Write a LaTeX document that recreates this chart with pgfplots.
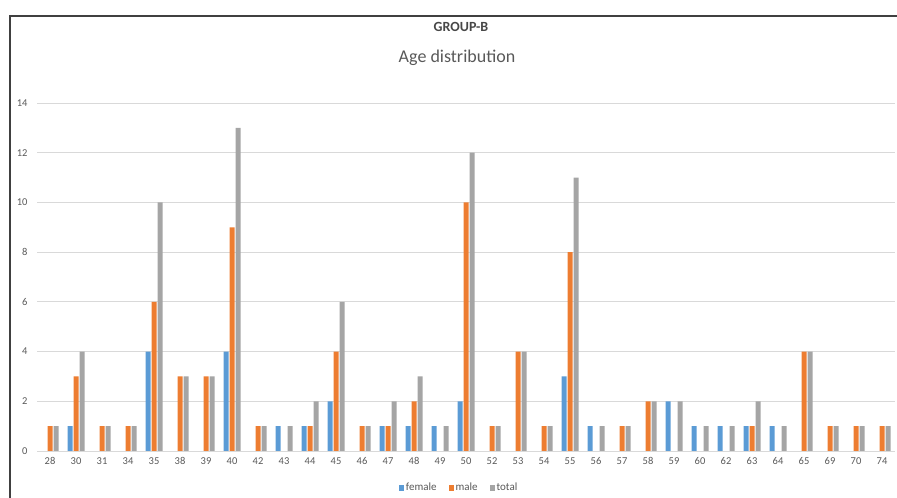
\documentclass[border=0pt]{standalone}
\usepackage{pgfplots}
\pgfplotsset{compat=1.18}
\usepackage{pgfplotstable}
\usepackage{fontspec}
\setmainfont{Carlito}

\definecolor{xlblue}{HTML}{5B9BD5}
\definecolor{xlorange}{HTML}{ED7D31}
\definecolor{xlgray}{HTML}{A5A5A5}
\definecolor{txtgray}{HTML}{595959}
\definecolor{gridgray}{HTML}{D9D9D9}

% age, female, male, total
\pgfplotstableread{
idx age female male total
0  28 0 1 1
1  30 1 3 4
2  31 0 1 1
3  34 0 1 1
4  35 4 6 10
5  38 0 3 3
6  39 0 3 3
7  40 4 9 13
8  42 0 1 1
9  43 1 0 1
10 44 1 1 2
11 45 2 4 6
12 46 0 1 1
13 47 1 1 2
14 48 1 2 3
15 49 1 0 1
16 50 2 10 12
17 52 0 1 1
18 53 0 4 4
19 54 0 1 1
20 55 3 8 11
21 56 1 0 1
22 57 0 1 1
23 58 0 2 2
24 59 2 0 2
25 60 1 0 1
26 62 1 0 1
27 63 1 1 2
28 64 1 0 1
29 65 0 4 4
30 69 0 1 1
31 70 0 1 1
32 74 0 1 1
}\agedata

\begin{document}
\begin{tikzpicture}[x=1pt,y=1pt]
\begin{axis}[
  at={(37pt,47pt)}, anchor=south west,
  scale only axis,
  width=858pt, height=348pt,
  ybar=1pt, bar width=5pt,
  xmin=-0.5, xmax=32.5,
  ymin=0, ymax=14,
  ytick={0,2,...,14},
  xtick=data,
  xticklabels from table={\agedata}{age},
  axis line style={draw=none},
  axis x line*=bottom,
  axis y line*=left,
  major tick length=0pt,
  ymajorgrids, grid style={gridgray, line width=0.8pt},
  tick label style={font=\fontsize{10.5}{12}\selectfont, text=txtgray},
  /pgf/number format/assume math mode=true,
  xticklabel style={yshift=-3pt},
  yticklabel style={xshift=-6pt},
  legend style={at={(0.492,-0.106)}, anchor=center, draw=none,
    font=\fontsize{11}{12}\selectfont, text=txtgray, legend columns=3,
    /tikz/every even column/.append style={column sep=10pt}},
  legend image code/.code={\fill[#1] (0pt,-3pt) rectangle (5pt,3pt);},
]
\addplot[draw=none, fill=xlblue] table[x=idx, y=female] {\agedata};
\addplot[draw=none, fill=xlorange] table[x=idx, y=male] {\agedata};
\addplot[draw=none, fill=xlgray] table[x=idx, y=total] {\agedata};
\legend{female, male, total}
\end{axis}
\draw[gridgray, line width=0.8pt] (37pt,47pt) -- (895pt,47pt);
\node[font=\fontsize{14}{16}\selectfont\bfseries, text=black!72] at (461pt,471pt) {GROUP-B};
\node[font=\fontsize{18}{20}\selectfont, text=txtgray] at (457pt,440pt) {Age distribution};
\draw[black!75, line width=1.6pt] (10pt,0pt) -- (10pt,482pt) -- (897pt,482pt);
\pgfresetboundingbox
\useasboundingbox (0pt,0pt) rectangle (897pt,498pt);
\end{tikzpicture}
\end{document}
